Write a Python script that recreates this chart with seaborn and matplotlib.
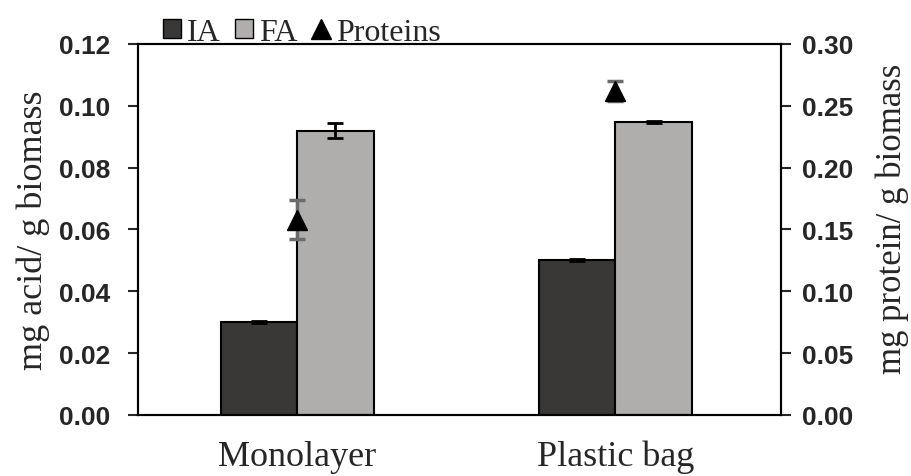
import matplotlib
matplotlib.use("Agg")
import matplotlib.pyplot as plt
import seaborn as sns
import pandas as pd
from matplotlib.lines import Line2D
from matplotlib.patches import Patch

categories = ["Monolayer", "Plastic bag"]
ia = [0.0301, 0.0501]
ia_err = [0.0004, 0.0003]
fa = [0.0920, 0.0948]
fa_err = [0.0023, 0.0003]
protein = [0.158, 0.262]
protein_err = [0.016, 0.008]

df = pd.DataFrame({
    "cond": categories * 2,
    "acid": ["IA"] * len(categories) + ["FA"] * len(categories),
    "value": ia + fa,
})

sns.set_style("white")
serif = "Liberation Serif"
tickfont = {"family": "Liberation Sans", "weight": "bold", "size": 19}

fig = plt.figure(figsize=(9.12, 4.77), dpi=100)
ax = fig.add_axes([0.1513, 0.1279, 0.7051, 0.7778])

colors = {"IA": "#3a3837", "FA": "#b0adac"}
sns.barplot(data=df, x="cond", y="value", hue="acid", hue_order=["IA", "FA"],
            palette=colors, width=0.48, errorbar=None, edgecolor="black",
            linewidth=1.5, legend=False, ax=ax)

# error bars on the acid bars, placed at the bar centres
errs = ia_err + fa_err
vals = ia + fa
for p, v, e in zip(ax.patches, vals, errs):
    cx = p.get_x() + p.get_width() / 2
    ax.errorbar(cx, v, yerr=e, color="black", capsize=6, capthick=2,
                elinewidth=2, fmt="none", zorder=5)

ax.set_xlim(-0.5, 1.52)
ax.set_ylim(0, 0.12)
ax.set_yticks([0, 0.02, 0.04, 0.06, 0.08, 0.10, 0.12])
ax.set_yticklabels([f"{t:.2f}" for t in ax.get_yticks()], fontdict=tickfont)
ax.set_xticks(range(len(categories)))
ax.set_xticklabels(categories, family=serif, fontsize=26)
ax.tick_params(axis="x", length=0, pad=18)
ax.tick_params(axis="y", direction="out", length=7, width=1.5, left=True, pad=13)
ax.set_xlabel("")
ax.set_ylabel("mg acid/ g biomass", family=serif, fontsize=26, labelpad=6)
for s in ax.spines.values():
    s.set_linewidth(1.5)
    s.set_color("black")

ax2 = ax.twinx()
ax2.errorbar(range(len(categories)), protein, yerr=protein_err, fmt="^",
             color="black", markersize=15, ecolor="#6b6b6b", elinewidth=2.5,
             capsize=6, capthick=2.5, zorder=6)
ax2.set_ylim(0, 0.30)
ax2.set_yticks([0, 0.05, 0.10, 0.15, 0.20, 0.25, 0.30])
ax2.set_yticklabels([f"{t:.2f}" for t in ax2.get_yticks()], fontdict=tickfont)
ax2.tick_params(axis="y", direction="out", length=7, width=1.5, right=True, pad=8)
ax2.set_ylabel("mg protein/ g biomass", family=serif, fontsize=25)
ax2.yaxis.set_label_coords(1.147, 0.53)
for s in ax2.spines.values():
    s.set_linewidth(1.5)
    s.set_color("black")

handles = [
    Patch(facecolor=colors["IA"], edgecolor="black", label="IA"),
    Patch(facecolor=colors["FA"], edgecolor="black", label="FA"),
    Line2D([], [], marker="^", color="black", linestyle="none", markersize=15,
           label="Proteins"),
]
fig.legend(handles=handles, loc="lower left", bbox_to_anchor=(0.179, 0.9),
           ncol=3, frameon=False, prop={"family": serif, "size": 23},
           handlelength=0.55, handleheight=0.55, handletextpad=0.2,
           columnspacing=0.45, borderpad=0, borderaxespad=0)

fig.savefig("out.png", dpi=100)
